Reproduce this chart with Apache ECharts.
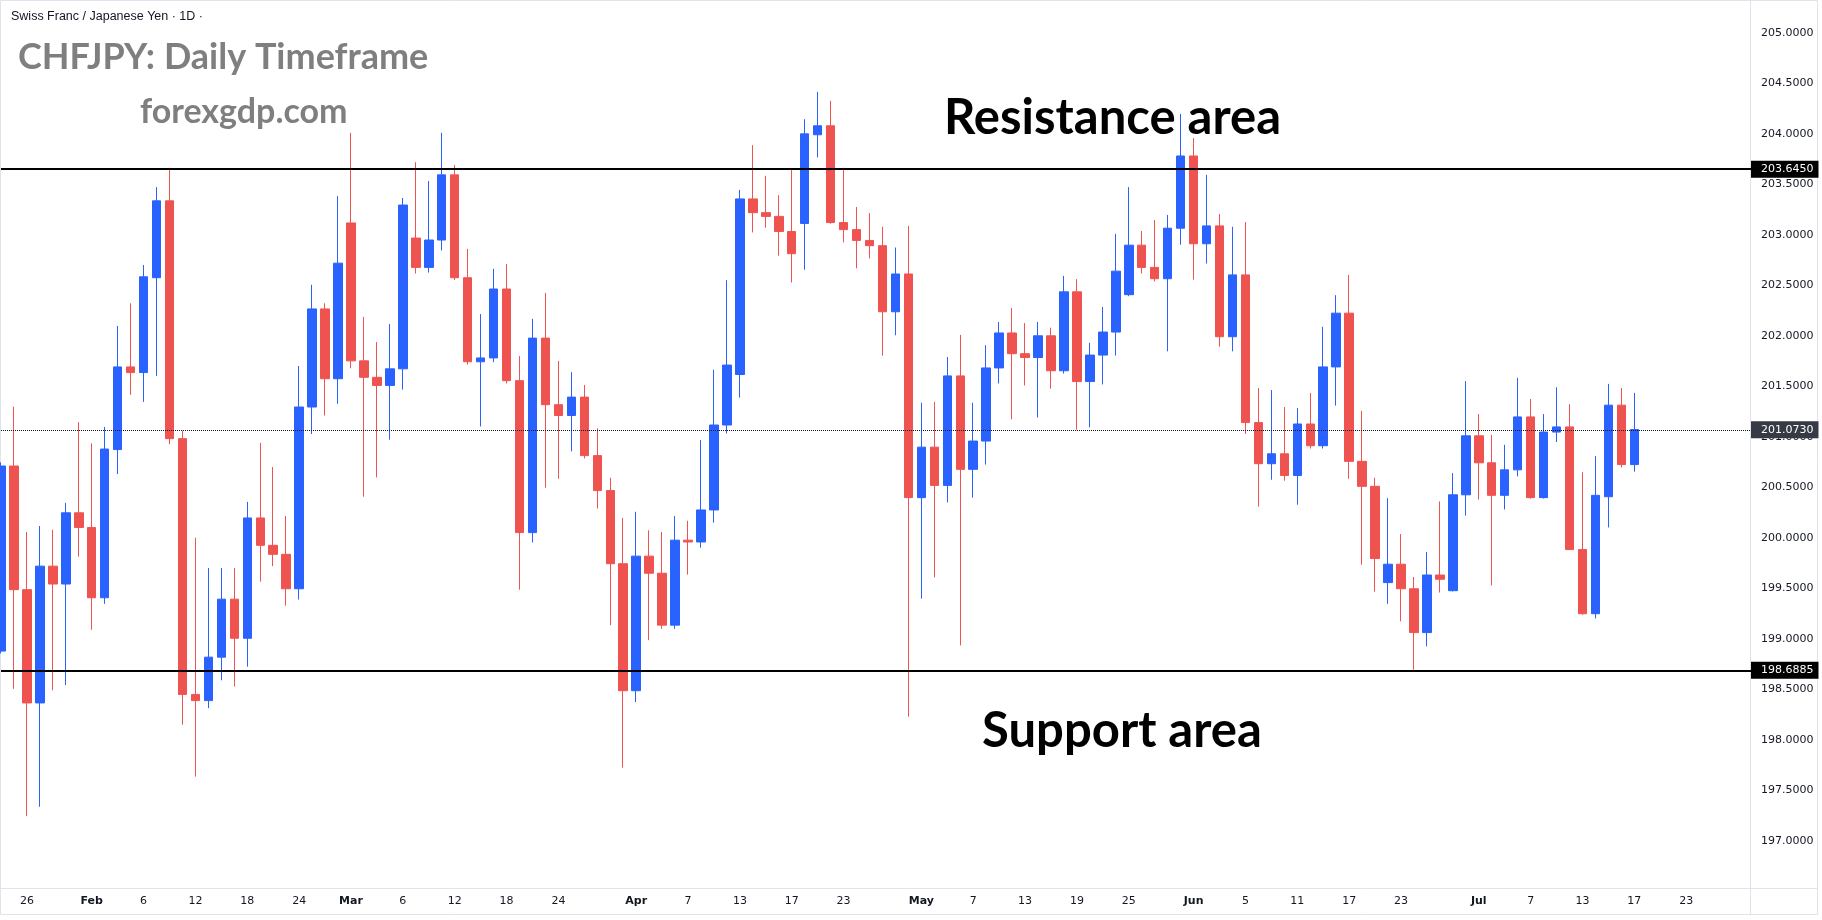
<!DOCTYPE html>
<html>
<head>
<meta charset="utf-8">
<title>CHFJPY Daily</title>
<script src="https://cdn.jsdelivr.net/npm/echarts@6/dist/echarts.min.js"></script>
<style>
  html, body { margin: 0; padding: 0; background: #ffffff; }
  #chart { width: 1822px; height: 920px; }
</style>
</head>
<body>
<div id="chart"></div>
<script>
// daily candles, 22 Jan 2026 .. 17 Jul 2026
var opens = [
  198.880, 200.712, 199.488, 198.367, 199.721, 199.544, 200.249, 200.104, 199.408, 200.875,
  201.693, 201.637, 202.576, 203.337, 200.983, 198.451, 198.390, 198.820, 199.394, 199.007,
  200.198, 199.927, 199.838, 199.497, 201.296, 202.267, 201.576, 203.118, 201.753, 201.590,
  201.510, 201.674, 202.968, 202.678, 202.949, 203.594, 202.576, 201.744, 201.782, 202.464,
  201.557, 200.053, 201.978, 201.319, 201.212, 201.394, 200.815, 200.469, 199.745, 198.488,
  199.820, 199.651, 199.137, 199.978, 199.960, 200.277, 201.118, 201.618, 203.356, 203.220,
  203.183, 203.033, 203.113, 203.991, 204.080, 203.122, 203.052, 202.945, 202.893, 202.239,
  202.613, 200.399, 200.899, 200.520, 201.604, 200.679, 200.959, 201.683, 202.029, 201.824,
  201.786, 202.001, 201.655, 202.436, 201.548, 201.810, 202.038, 202.408, 202.898, 202.678,
  202.566, 203.066, 203.781, 202.912, 203.089, 201.992, 202.604, 201.142, 200.735, 200.833,
  200.618, 201.128, 200.913, 201.693, 202.225, 200.758, 200.511, 199.558, 199.740, 199.497,
  199.063, 199.633, 199.478, 200.427, 201.011, 200.744, 200.422, 200.674, 201.198, 200.399,
  201.048, 201.099, 199.885, 199.250, 200.408, 201.314, 200.726
];
var closes = [
  200.712, 199.488, 198.367, 199.721, 199.544, 200.249, 200.104, 199.408, 200.880, 201.693,
  201.637, 202.585, 203.337, 200.983, 198.451, 198.390, 198.820, 199.394, 199.007, 200.198,
  199.927, 199.838, 199.497, 201.296, 202.267, 201.576, 202.720, 201.753, 201.590, 201.510,
  201.674, 203.295, 202.678, 202.949, 203.594, 202.576, 201.744, 201.782, 202.464, 201.557,
  200.053, 201.978, 201.319, 201.212, 201.394, 200.815, 200.469, 199.745, 198.488, 199.820,
  199.651, 199.137, 199.978, 199.960, 200.277, 201.118, 201.711, 203.356, 203.220, 203.183,
  203.033, 202.814, 204.000, 204.080, 203.122, 203.052, 202.945, 202.893, 202.239, 202.613,
  200.399, 200.899, 200.520, 201.604, 200.679, 200.959, 201.683, 202.029, 201.824, 201.786,
  202.001, 201.655, 202.436, 201.548, 201.810, 202.038, 202.641, 202.898, 202.678, 202.566,
  203.066, 203.781, 202.912, 203.089, 201.992, 202.604, 201.142, 200.735, 200.833, 200.618,
  201.128, 200.913, 201.693, 202.225, 200.758, 200.511, 199.796, 199.740, 199.497, 199.063,
  199.633, 199.591, 200.427, 201.011, 200.744, 200.422, 200.674, 201.198, 200.399, 201.048,
  201.099, 199.885, 199.250, 200.422, 201.314, 200.726, 201.073
];
var lows = [
  198.857, 198.507, 197.246, 197.339, 198.493, 198.544, 199.815, 199.091, 199.348, 200.632,
  201.417, 201.347, 201.604, 200.927, 198.152, 197.638, 198.315, 198.591, 198.530, 198.726,
  199.567, 199.721, 199.329, 199.390, 201.029, 201.212, 201.328, 201.679, 200.408, 200.600,
  200.973, 201.468, 202.618, 202.627, 202.847, 202.552, 201.716, 201.104, 201.740, 201.529,
  199.488, 199.955, 200.497, 200.586, 200.857, 200.787, 200.291, 199.137, 197.727, 198.376,
  198.988, 199.100, 199.100, 199.637, 199.904, 200.151, 201.034, 201.389, 203.024, 203.071,
  202.795, 202.529, 202.655, 203.767, 203.110, 202.926, 202.669, 202.767, 201.805, 202.006,
  198.231, 199.399, 199.609, 200.352, 198.937, 200.399, 200.726, 201.529, 201.174, 201.510,
  201.193, 201.478, 201.627, 201.071, 201.095, 201.520, 201.805, 202.393, 202.618, 202.538,
  201.847, 202.903, 202.557, 202.716, 201.894, 201.847, 201.029, 200.310, 200.576, 200.567,
  200.329, 200.885, 200.885, 201.310, 200.586, 199.735, 199.469, 199.348, 199.175, 198.694,
  198.927, 199.460, 199.470, 200.221, 200.380, 199.530, 200.282, 200.609, 200.390, 200.390,
  200.950, 199.880, 199.240, 199.203, 200.104, 200.698, 200.656
];
var highs = [
  200.749, 201.300, 200.058, 200.118, 200.081, 200.347, 201.146, 200.936, 201.099, 202.099,
  202.323, 202.702, 203.473, 203.664, 201.062, 200.002, 199.703, 199.703, 199.703, 200.357,
  200.941, 200.702, 200.217, 201.702, 202.506, 202.323, 203.384, 204.010, 202.188, 201.940,
  202.118, 203.365, 203.720, 203.533, 204.010, 203.692, 202.861, 202.216, 202.664, 202.711,
  201.800, 202.169, 202.426, 201.753, 201.641, 201.515, 201.085, 200.595, 200.198, 200.259,
  200.076, 200.058, 200.217, 200.170, 200.969, 201.665, 202.552, 203.445, 203.888, 203.585,
  203.393, 203.655, 204.145, 204.416, 204.327, 203.664, 203.276, 203.216, 203.080, 202.875,
  203.089, 201.338, 201.347, 201.791, 202.010, 201.338, 201.908, 202.137, 202.277, 202.127,
  202.137, 202.081, 202.594, 202.562, 201.931, 202.286, 203.010, 203.473, 203.038, 203.146,
  203.197, 204.197, 203.958, 203.594, 203.206, 203.080, 203.127, 201.483, 201.464, 201.296,
  201.286, 201.436, 202.090, 202.403, 202.604, 201.258, 200.595, 200.394, 200.039, 199.614,
  199.862, 200.361, 200.642, 201.553, 201.226, 201.020, 200.922, 201.585, 201.375, 201.226,
  201.492, 201.324, 200.651, 200.810, 201.525, 201.483, 201.436
];

var resistance = 203.645;
var support = 198.6885;
var lastPrice = 201.073;

var yTicks = [197, 197.5, 198, 198.5, 199, 199.5, 200, 200.5, 201, 201.5, 202, 202.5, 203, 203.5, 204, 204.5, 205];

var xTickDates = ['2026-01-26', '2026-02-02', '2026-02-06', '2026-02-12', '2026-02-18', '2026-02-24',
  '2026-03-02', '2026-03-06', '2026-03-12', '2026-03-18', '2026-03-24', '2026-04-01', '2026-04-07',
  '2026-04-13', '2026-04-17', '2026-04-23', '2026-05-01', '2026-05-07', '2026-05-13', '2026-05-19',
  '2026-05-25', '2026-06-01', '2026-06-05', '2026-06-11', '2026-06-17', '2026-06-23', '2026-07-01',
  '2026-07-07', '2026-07-13', '2026-07-17', '2026-07-23'];
var xTickTexts = ['26', 'Feb', '6', '12', '18', '24', 'Mar', '6', '12', '18', '24', 'Apr', '7',
  '13', '17', '23', 'May', '7', '13', '19', '25', 'Jun', '5', '11', '17', '23', 'Jul',
  '7', '13', '17', '23'];

// weekday categories: the candles plus some empty days on the right
var dates = [];
var d = new Date(Date.UTC(2026, 0, 22));
while (dates.length < 136) {
  var wd = d.getUTCDay();
  if (wd !== 0 && wd !== 6) dates.push(d.toISOString().slice(0, 10));
  d.setUTCDate(d.getUTCDate() + 1);
}

var candles = [];
for (var i = 0; i < opens.length; i++) {
  candles.push([opens[i], closes[i], lows[i], highs[i]]);
}

var UP = '#2962ff', DOWN = '#ef5350';
var axisFont = 'DejaVu Sans';

function priceLine(value, color, type, width, bg) {
  return {
    yAxis: value,
    lineStyle: { color: color, type: type, width: width },
    label: {
      show: true, position: 'end', distance: 0,
      formatter: value.toFixed(4),
      color: '#ffffff', backgroundColor: bg,
      fontFamily: axisFont, fontSize: 11,
      padding: [3, 5, 3, 10]
    }
  };
}

var chart = echarts.init(document.getElementById('chart'));
var option = {
  animation: false,
  backgroundColor: '#ffffff',
  grid: { left: 1, right: 71, top: 1, bottom: 32 },
  xAxis: {
    type: 'category',
    data: dates,
    boundaryGap: false,
    axisLine: { show: false },
    axisTick: { show: false },
    splitLine: { show: false },
    axisLabel: {
      margin: 8,
      color: '#131722',
      fontFamily: axisFont,
      fontSize: 11,
      interval: function (idx, val) { return xTickDates.indexOf(val) >= 0; },
      formatter: function (val) {
        var t = xTickTexts[xTickDates.indexOf(val)];
        return isNaN(+t) ? '{m|' + t + '}' : t;
      },
      rich: { m: { fontWeight: 'bold', fontFamily: axisFont, fontSize: 11, color: '#131722' } }
    }
  },
  yAxis: {
    type: 'value',
    position: 'right',
    min: 196.535,
    max: 205.315,
    scale: true,
    axisLine: { show: false },
    axisTick: { show: false },
    splitLine: { show: false },
    axisLabel: {
      customValues: yTicks,
      margin: 10,
      color: '#131722',
      fontFamily: axisFont,
      fontSize: 11,
      formatter: function (v) { return v.toFixed(4); }
    }
  },
  series: [{
    type: 'candlestick',
    data: candles,
    barWidth: 9,
    clip: true,
    itemStyle: {
      color: UP, color0: DOWN,
      borderColor: UP, borderColor0: DOWN,
      borderWidth: 1
    },
    markLine: {
      silent: true,
      symbol: ['none', 'none'],
      data: [
        priceLine(lastPrice, '#131722', 'dotted', 1, '#363a45'),
        priceLine(resistance, '#000000', 'solid', 2, '#000000'),
        priceLine(support, '#000000', 'solid', 2, '#000000')
      ]
    }
  }],
  graphic: [
    { type: 'rect', silent: true, shape: { x: 0.5, y: 0.5, width: 1817, height: 914 },
      style: { fill: null, stroke: '#e0e3eb', lineWidth: 1 } },
    { type: 'line', silent: true, shape: { x1: 1750.5, y1: 0, x2: 1750.5, y2: 914 },
      style: { stroke: '#e0e3eb', lineWidth: 1 } },
    { type: 'line', silent: true, shape: { x1: 0, y1: 888.5, x2: 1817, y2: 888.5 },
      style: { stroke: '#e0e3eb', lineWidth: 1 } },
    { type: 'text', left: 11, top: 10, silent: true,
      style: { text: 'Swiss Franc / Japanese Yen · 1D ·', fill: '#131722',
        font: '12.5px "Liberation Sans"' } },
    { type: 'text', x: 18, y: 57.5, silent: true,
      style: { text: 'CHFJPY: Daily Timeframe', fill: '#7f7f7f', verticalAlign: 'middle',
        font: 'bold 36px Lato' } },
    { type: 'text', x: 140, y: 112.5, silent: true,
      style: { text: 'forexgdp.com', fill: '#7f7f7f', verticalAlign: 'middle',
        font: 'bold 34px Lato' } },
    { type: 'text', x: 944, y: 118, silent: true,
      style: { text: 'Resistance area', fill: '#000000', verticalAlign: 'middle',
        font: 'bold 49px Lato' } },
    { type: 'text', x: 982, y: 731, silent: true,
      style: { text: 'Support area', fill: '#000000', verticalAlign: 'middle',
        font: 'bold 49px Lato' } }
  ]
};
chart.setOption(option);
</script>
</body>
</html>
